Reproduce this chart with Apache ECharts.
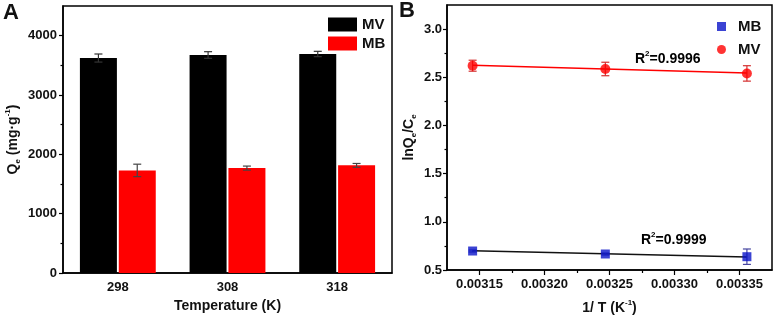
<!DOCTYPE html>
<html>
<head>
<meta charset="utf-8">
<script src="https://cdn.jsdelivr.net/npm/echarts@6/dist/echarts.min.js"></script>
<style>
html, body { margin: 0; padding: 0; background: #fff; }
#main { width: 775px; height: 318px; }
</style>
</head>
<body>
<div id="main"></div>
<script>
// panel A: adsorption capacity vs temperature
var temps = ['298', '308', '318'];
var qeMV = [3623, 3674, 3691];
var qeMVErr = [68, 56, 45];
var qeMB = [1729, 1768, 1814];
var qeMBErr = [105, 34, 32];
var qeTicks = [0, 1000, 2000, 3000, 4000];
var qeMinor = [500, 1500, 2500, 3500];

// panel B: van't Hoff plot
var invT = [0.0031447, 0.0032468, 0.0033557];
var lnMV = [2.62, 2.586, 2.54];
var lnMVErr = [0.057, 0.07, 0.08];
var lnMB = [0.697, 0.666, 0.638];
var lnMBErr = [0.01, 0.01, 0.08];
var fitX = [0.0031447, 0.0033557];
var fitMV = [2.625, 2.545];
var fitMB = [0.70, 0.635];
var invTTicks = [0.00315, 0.0032, 0.00325, 0.0033, 0.00335];
var invTMinor = [0.003175, 0.003225, 0.003275, 0.003325];
var lnTicks = [0.5, 1.0, 1.5, 2.0, 2.5, 3.0];
var lnMinor = [0.75, 1.25, 1.75, 2.25, 2.75];

var FONT = 'Liberation Sans';
var TXT = '#111';
var lbl = { fontFamily: FONT, fontWeight: 'bold', fontSize: 13, color: TXT };
var rich = {
  a: { fontFamily: FONT, fontWeight: 'bold', fontSize: 14, color: TXT, lineHeight: 18 },
  s: { fontFamily: FONT, fontWeight: 'bold', fontSize: 8, color: TXT, lineHeight: 8, verticalAlign: 'bottom' },
  p: { fontFamily: FONT, fontWeight: 'bold', fontSize: 8, color: TXT, lineHeight: 8, verticalAlign: 'top' }
};
var axLine = { lineStyle: { color: '#000', width: 1.5 } };

function errBar(xi, yi, xs, vals, errs, shift, color) {
  return {
    type: 'custom', xAxisIndex: xi, yAxisIndex: yi, z: 5, silent: true,
    data: vals.map(function (v, i) { return [xs[i], v, errs[i]]; }),
    renderItem: function (params, api) {
      var x = api.value(0), y = api.value(1), e = api.value(2);
      var hi = api.coord([x, y + e]);
      var lo = api.coord([x, y - e]);
      var dx = shift ? shift * api.size([1, 0])[0] : 0;
      var cx = hi[0] + dx, w = 4;
      var st = { stroke: color, lineWidth: 1.2 };
      return {
        type: 'group',
        children: [
          { type: 'line', shape: { x1: cx, y1: hi[1], x2: cx, y2: lo[1] }, style: st },
          { type: 'line', shape: { x1: cx - w, y1: hi[1], x2: cx + w, y2: hi[1] }, style: st },
          { type: 'line', shape: { x1: cx - w, y1: lo[1], x2: cx + w, y2: lo[1] }, style: st }
        ]
      };
    }
  };
}

var chart = echarts.init(document.getElementById('main'));
chart.setOption({
  animation: false,
  textStyle: { fontFamily: FONT },
  grid: [
    { left: 63, top: 6, width: 329, height: 267, show: true, borderColor: '#000', borderWidth: 1.5, containLabel: false, outerBoundsMode: 'none' },
    { left: 447, top: 5, width: 325, height: 265, show: true, borderColor: '#000', borderWidth: 1.5, containLabel: false, outerBoundsMode: 'none' }
  ],
  legend: [
    {
      data: [{ name: 'MV', icon: 'rect' }, { name: 'MB', icon: 'rect' }],
      orient: 'vertical', left: 328, top: 17, itemWidth: 29, itemHeight: 14, itemGap: 4,
      padding: 0, textStyle: { fontFamily: FONT, fontWeight: 700, fontSize: 15, color: TXT }
    },
    {
      data: [{ name: 'MB ', icon: 'rect' }, { name: 'MV ', icon: 'circle' }],
      orient: 'vertical', left: 717, top: 19, itemWidth: 9, itemHeight: 9, itemGap: 8,
      padding: 0, textStyle: { fontFamily: FONT, fontWeight: 700, fontSize: 15, color: TXT, padding: [0, 0, 0, 7] }
    }
  ],
  xAxis: [
    {
      gridIndex: 0, type: 'category', data: temps,
      name: 'Temperature (K)', nameLocation: 'middle', nameGap: 25,
      nameTextStyle: { fontFamily: FONT, fontWeight: 'bold', fontSize: 14, color: TXT },
      axisLine: axLine, axisTick: { show: false }, axisLabel: Object.assign({ margin: 8 }, lbl)
    },
    {
      gridIndex: 1, type: 'value', min: 0.003125, max: 0.003375,
      name: '{a|1/ T (K}{p|-1}{a|)}', nameLocation: 'middle', nameGap: 29,
      nameTextStyle: { rich: rich },
      axisLine: axLine, splitLine: { show: false },
      axisTick: { customValues: invTTicks, length: 5, lineStyle: { color: '#000', width: 1.2 } },
      axisLabel: Object.assign({ customValues: invTTicks, margin: 8, formatter: function (v) { return v.toFixed(5); } }, lbl)
    },
    {
      gridIndex: 1, type: 'value', min: 0.003125, max: 0.003375, position: 'bottom',
      axisLine: { show: false }, splitLine: { show: false }, axisLabel: { show: false },
      axisTick: { customValues: invTMinor, length: 3, lineStyle: { color: '#000', width: 1.2 } }
    }
  ],
  yAxis: [
    {
      gridIndex: 0, type: 'value', min: 0, max: 4500,
      name: '{a|Q}{s|e}{a| (mg·g}{p|-1}{a|)}', nameLocation: 'middle', nameRotate: 90, nameGap: 41,
      nameTextStyle: { rich: rich },
      axisLine: Object.assign({ show: true }, axLine), splitLine: { show: false },
      axisTick: { show: true, customValues: qeTicks, length: 4, lineStyle: { color: '#000', width: 1.2 } },
      axisLabel: Object.assign({ customValues: qeTicks, margin: 6, formatter: function (v) { return String(v); } }, lbl)
    },
    {
      gridIndex: 0, type: 'value', min: 0, max: 4500, position: 'left',
      axisLine: { show: false }, splitLine: { show: false }, axisLabel: { show: false },
      axisTick: { show: true, customValues: qeMinor, length: 2.5, lineStyle: { color: '#000', width: 1.2 } }
    },
    {
      gridIndex: 1, type: 'value', min: 0.5, max: 3.25,
      name: '{a|lnQ}{s|e}{a|/C}{s|e}', nameLocation: 'middle', nameRotate: 90, nameGap: 29,
      nameTextStyle: { rich: rich },
      axisLine: Object.assign({ show: true }, axLine), splitLine: { show: false },
      axisTick: { show: true, customValues: lnTicks, length: 4, lineStyle: { color: '#000', width: 1.2 } },
      axisLabel: Object.assign({ customValues: lnTicks, margin: 5, formatter: function (v) { return v.toFixed(1); } }, lbl)
    },
    {
      gridIndex: 1, type: 'value', min: 0.5, max: 3.25, position: 'left',
      axisLine: { show: false }, splitLine: { show: false }, axisLabel: { show: false },
      axisTick: { show: true, customValues: lnMinor, length: 2.5, lineStyle: { color: '#000', width: 1.2 } }
    }
  ],
  series: [
    { name: 'MV', type: 'bar', xAxisIndex: 0, yAxisIndex: 0, data: qeMV, barWidth: 37, barGap: '5%', itemStyle: { color: '#000' } },
    { name: 'MB', type: 'bar', xAxisIndex: 0, yAxisIndex: 0, data: qeMB, barWidth: 37, barGap: '5%', itemStyle: { color: '#ff0000' } },
    errBar(0, 0, [0, 1, 2], qeMV, qeMVErr, -0.177, '#333'),
    errBar(0, 0, [0, 1, 2], qeMB, qeMBErr, 0.177, '#444'),
    {
      type: 'line', xAxisIndex: 1, yAxisIndex: 2, showSymbol: false, silent: true,
      data: fitX.map(function (x, i) { return [x, fitMV[i]]; }),
      lineStyle: { color: '#ff0000', width: 1.5 }
    },
    {
      type: 'line', xAxisIndex: 1, yAxisIndex: 2, showSymbol: false, silent: true,
      data: fitX.map(function (x, i) { return [x, fitMB[i]]; }),
      lineStyle: { color: '#111', width: 1.5 }
    },
    errBar(1, 2, invT, lnMV, lnMVErr, 0, '#d43030'),
    errBar(1, 2, invT, lnMB, lnMBErr, 0, '#4646a0'),
    {
      name: 'MB ', type: 'scatter', xAxisIndex: 1, yAxisIndex: 2, symbol: 'rect', symbolSize: 9, z: 6,
      data: invT.map(function (x, i) { return [x, lnMB[i]]; }), itemStyle: { color: '#0a14c8' }
    },
    {
      name: 'MV ', type: 'scatter', xAxisIndex: 1, yAxisIndex: 2, symbol: 'circle', symbolSize: 10, z: 6,
      data: invT.map(function (x, i) { return [x, lnMV[i]]; }), itemStyle: { color: '#ff0000' }
    }
  ],
  graphic: [
    { type: 'text', left: 3, top: 2, style: { text: 'A', font: 'bold 22px "Liberation Sans"', fill: '#111' } },
    { type: 'text', left: 399, top: 0, style: { text: 'B', font: 'bold 22px "Liberation Sans"', fill: '#111' } },
    { type: 'text', left: 635, top: 50, style: { text: '{a|R}{p|2}{a|=0.9996}', rich: rich } },
    { type: 'text', left: 641, top: 231, style: { text: '{a|R}{p|2}{a|=0.9999}', rich: rich } }
  ]
});
</script>
</body>
</html>
